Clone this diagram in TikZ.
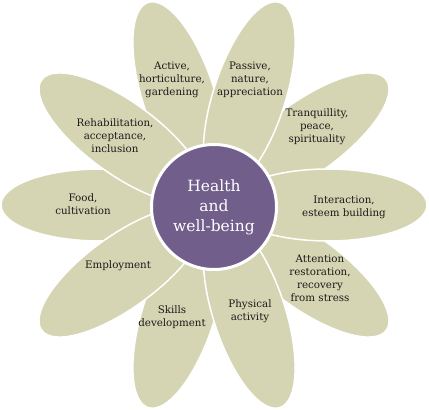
\documentclass[tikz,border=0pt]{standalone}
\usepackage{fontspec}
\setmainfont{DejaVu Serif}
\usetikzlibrary{positioning}
\definecolor{blatt}{HTML}{D6D5B3}
\definecolor{mitte}{HTML}{715E8B}
\definecolor{schrift}{HTML}{1A1A1A}

\begin{document}
\begin{tikzpicture}[
        x=1pt, y=1pt,
        petal/.style={fill=blatt, draw=white, line width=1.5pt},
        petaltext/.style={font=\fontsize{10.3}{13}\selectfont, text=schrift, align=center},
      ]
      \useasboundingbox (0,0) rectangle (429,410);

      % Blaetter: erst die unteren, dann die oberen
      \begin{scope}[shift={(214,205)}]
        \foreach \w in {36,108,180,252,324}
          \draw[petal, rotate=\w] (114,0) ellipse (99 and 36);
        \foreach \w in {0,72,144,216,288}
          \draw[petal, rotate=\w] (114,0) ellipse (99 and 36);
      \end{scope}

      % Mitte
      \node[circle, fill=mitte, draw=white, line width=3pt, minimum size=125pt,
            text=white, align=center, font=\fontsize{15.5}{20}\selectfont]
        (herz) at (214,203) {Health\\and\\well-being};

      % Beschriftungen
      \foreach \name/\px/\py/\txt in {
          active/172/330/{Active,\\horticulture,\\gardening},
          passive/250/330/{Passive,\\nature,\\appreciation},
          tranq/317/283/{Tranquillity,\\peace,\\spirituality},
          interact/344/203/{Interaction,\\esteem building},
          attention/320/132/{Attention\\restoration,\\recovery\\from stress},
          physical/250/99/{Physical\\activity},
          skills/172/93/{Skills\\development},
          employ/118/144/{Employment},
          food/83/206/{Food,\\cultivation},
          rehab/115/274/{Rehabilitation,\\acceptance,\\inclusion}} {
        \node[petaltext] (\name) at (\px,\py) {\txt};
      }
    \end{tikzpicture}
\end{document}
